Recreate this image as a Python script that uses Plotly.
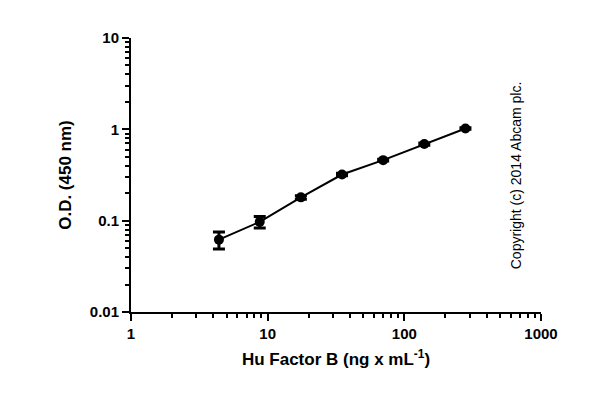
import plotly.graph_objects as go

# concentration (ng/mL) and optical density
conc = [4.4, 8.75, 17.5, 35, 70, 140, 280]
od = [0.062, 0.097, 0.18, 0.32, 0.46, 0.69, 1.02]
od_err = [0.013, 0.014, 0.008, 0.01, 0.01, 0.02, 0.02]

x_minor = [m * 10 ** e for e in range(0, 3) for m in range(2, 10)]
y_minor = [m * 10.0 ** e for e in range(-2, 1) for m in range(2, 10)]

fig = go.Figure(go.Scatter(
    x=conc, y=od, mode='lines+markers',
    line=dict(color='black', width=2),
    marker=dict(color='black', size=10),
    error_y=dict(type='data', array=od_err, color='black', thickness=3, width=6),
))

font_b = dict(family='Liberation Sans', size=17, color='black')
ax = dict(type='log', showline=True, linecolor='black', linewidth=2, ticks='outside',
          ticklen=7, tickwidth=2, tickcolor='black', showgrid=False, zeroline=False,
          tickfont=dict(family='Liberation Sans', size=15, color='black'))
mn = dict(ticks='outside', ticklen=4, tickwidth=2, tickcolor='black', showgrid=False)

fig.update_layout(
    width=600, height=403, margin=dict(l=123, r=67, t=30, b=99),
    paper_bgcolor='white', plot_bgcolor='white', showlegend=False,
    xaxis=dict(ax, range=[0, 3], tickvals=[1, 10, 100, 1000], ticktext=['<b>1</b>', '<b>10</b>', '<b>100</b>', '<b>1000</b>'],
               minor=dict(mn, tickvals=x_minor),
               title=dict(text='<b>Hu Factor B (ng x mL<sup>-1</sup>)</b>', font=font_b, standoff=12)),
    yaxis=dict(ax, range=[-2, 1], tickvals=[0.01, 0.1, 1, 10], ticktext=['<b>0.01</b>', '<b>0.1</b>', '<b>1</b>', '<b>10</b>'],
               minor=dict(mn, tickvals=y_minor),
               title=dict(text='<b>O.D. (450 nm)</b>', font=font_b, standoff=14)),
    annotations=[dict(text='Copyright (c) 2014 Abcam plc.', x=0.964, y=0.5, xref='paper', yref='paper',
                      showarrow=False, textangle=-90, font=dict(family='Liberation Sans', size=14, color='black'))],
)

fig.write_html('out.html')
